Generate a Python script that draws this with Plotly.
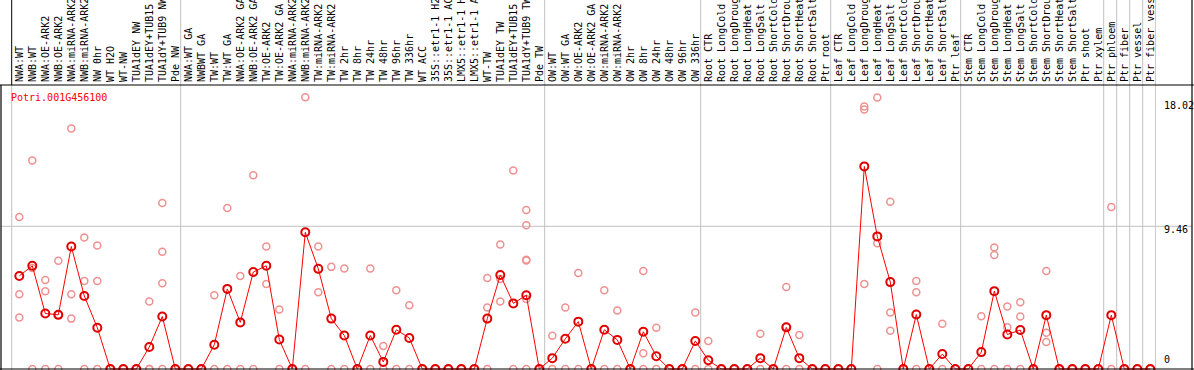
import plotly.graph_objects as go

gene = "Potri.001G456100"

labels = [
    "NWA:WT", "NWB:WT", "NWA:OE-ARK2", "NWB:OE-ARK2", "NWA:miRNA-ARK2", "NWB:miRNA-ARK2",
    "NW 0hr", "WT H2O", "WT-NW", "TUA1dEY NW", "TUA1dEY+TUB15", "TUA1dY+TUB9 NW", "Pde NW",
    "NWA:WT GA", "NWBWT GA", "TW:WT", "TW:WT GA", "NWA:OE-ARK2 GA", "NWB:OE-ARK2 GA",
    "TW:OE-ARK2", "TW:OE-ARK2 GA", "NWA:miRNA-ARK2", "NWB:miRNA-ARK2", "TW:miRNA-ARK2",
    "TW:miRNA-ARK2", "TW 2hr", "TW 8hr", "TW 24hr", "TW 48hr", "TW 96hr", "TW 336hr",
    "WT ACC", "35S::etr1-1 H2", "35S::etr1-1 AC", "LMX5::etr1-1 H", "LMX5::etr1-1 A",
    "WT-TW", "TUA1dEY TW", "TUA1dEY+TUB15", "TUA1dY+TUB9 TW", "Pde TW",
    "OW:WT", "OW:WT GA", "OW:OE-ARK2", "OW:OE-ARK2 GA", "OW:miRNA-ARK2", "OW:miRNA-ARK2",
    "OW 2hr", "OW 8hr", "OW 24hr", "OW 48hr", "OW 96hr", "OW 336hr",
    "Root CTR", "Root LongCold", "Root LongDroug", "Root LongHeat", "Root LongSalt",
    "Root ShortCold", "Root ShortDrou", "Root ShortHeat", "Root ShortSalt", "Ptr root",
    "Leaf CTR", "Leaf LongCold", "Leaf LongDroug", "Leaf LongHeat", "Leaf LongSalt",
    "Leaf ShortCold", "Leaf ShortDrou", "Leaf ShortHeat", "Leaf ShortSalt", "Ptr leaf",
    "Stem CTR", "Stem LongCold", "Stem LongDroug", "Stem LongHeat", "Stem LongSalt",
    "Stem ShortCold", "Stem ShortDrou", "Stem ShortHeat", "Stem ShortSalt", "Ptr shoot",
    "Ptr xylem", "Ptr phloem", "Ptr fiber", "Ptr vessel", "Ptr fiber vess",
]

means = [
    6.17, 6.84, 3.68, 3.59, 8.12, 4.84, 2.74, 0, 0, 0, 1.46, 3.48, 0,
    0, 0, 1.61, 5.31, 3.09, 6.43, 6.84, 1.95, 0, 9.06, 6.64, 3.34, 2.22, 0, 2.22,
    0.47, 2.6, 2.06, 0, 0, 0, 0, 0, 3.34, 6.23, 4.35, 4.89, 0,
    0.72, 2.0, 3.14, 0, 2.6, 1.93, 0, 2.47, 0.85, 0, 0, 1.86,
    0.58, 0, 0, 0, 0.72, 0, 2.76, 0.72, 0, 0,
    0, 0, 13.43, 8.79, 5.76, 0, 3.61, 0, 0.99, 0,
    0, 1.12, 5.16, 2.29, 2.58, 0, 3.57, 0, 0, 0,
    0, 3.57, 0, 0, 0,
]

replicates = [
    [10.07, 4.96, 3.41], [13.82, 6.7, 0], [5.9, 5.16, 0], [7.17, 3.6, 0],
    [15.95, 4.96, 3.34], [8.72, 5.83, 0], [8.18, 5.83, 0], [0], [0], [0],
    [4.48, 0, 0], [11.0, 7.78, 5.69, 0], [0],
    [0], [0], [4.89, 0], [10.67, 0], [6.17, 0], [12.84, 0], [8.12, 5.63], [3.95, 0],
    [0], [18.02, 0], [8.12, 5.09], [6.77, 0], [6.66, 0], [0], [6.66, 0], [1.52, 0],
    [5.22, 0], [4.22, 0], [0], [0], [0], [0], [0], [6.03, 4.08, 0],
    [8.25, 5.96, 4.48], [13.16, 0], [10.54, 9.53, 7.24, 7.2, 4.64, 0], [0],
    [2.2, 0], [4.08, 0], [6.37, 0], [0], [5.22, 0], [3.88, 0], [0], [6.5, 1.05, 0],
    [2.74, 0], [0], [0], [3.74, 0],
    [1.86, 0], [0], [0], [0], [2.33, 0], [0], [5.43, 2.8, 0], [2.26, 0], [0], [0],
    [0], [0], [17.4, 17.2, 5.63], [18.0, 8.34, 0], [11.08, 3.74, 2.53], [0],
    [5.83, 5.09, 0], [0], [3.0, 0], [0],
    [0], [3.5, 0], [8.05, 7.56, 0], [4.15, 2.76, 0], [4.42, 3.48, 0], [0],
    [6.5, 2.4, 1.79], [0], [0], [0],
    [0], [10.74, 0], [0], [0], [0],
]

# last column index of each group (a separator is drawn after it)
group_last = [-1, 12, 40, 52, 62, 72, 83, 84, 85, 86, 87]

y_ticks = [0, 9.46, 18.02]
y_ticktext = ["0", "9.46", "18.02"]

MONO = "DejaVu Sans Mono"
W, H = 1194, 370
ML, MR, MT, MB = 1, 38, 85, 0
plot_w = W - ML - MR
plot_h = H - MT - MB

x_idx = list(range(len(labels)))
rep_x = [i for i, reps in enumerate(replicates) for _ in reps]
rep_y = [v for reps in replicates for v in reps]

fig = go.Figure()
fig.add_trace(go.Scatter(
    x=rep_x, y=rep_y, mode="markers", cliponaxis=False,
    marker=dict(symbol="circle-open", size=7, color="#f09090", line=dict(width=1.5, color="#f09090")),
    hoverinfo="skip", showlegend=False,
))
fig.add_trace(go.Scatter(
    x=x_idx, y=means, mode="lines+markers", cliponaxis=False,
    line=dict(color="#ff0000", width=1),
    marker=dict(symbol="circle-open", size=8, color="#e00000", line=dict(width=2, color="#e00000")),
    showlegend=False,
))

top_paper = H / plot_h - MB / plot_h  # paper y of image top
right_paper = (1192 - ML) / plot_w

shapes = []
for k, g in enumerate(group_last):
    xv = g + 0.415
    shapes.append(dict(type="line", xref="x", yref="paper", x0=xv, x1=xv, y0=0, y1=1,
                       line=dict(color="#c0c0c0", width=1), layer="below"))
    shapes.append(dict(type="line", xref="x", yref="paper", x0=xv, x1=xv, y0=1, y1=top_paper,
                       line=dict(color="#000000" if k == 0 else "#c0c0c0", width=1), layer="below"))
# horizontal mid gridline
shapes.append(dict(type="line", xref="paper", yref="y", x0=0, x1=right_paper, y0=y_ticks[1], y1=y_ticks[1],
                   line=dict(color="#c0c0c0", width=1), layer="below"))
# frame
shapes += [
    dict(type="line", xref="paper", yref="paper", x0=-0.01, x1=1.05, y0=1, y1=1, line=dict(color="black", width=1.2)),
    dict(type="line", xref="paper", yref="paper", x0=-0.01, x1=1.05, y0=1.0 / plot_h, y1=1.0 / plot_h, line=dict(color="black", width=1.2)),
    dict(type="line", xref="paper", yref="paper", x0=0, x1=0, y0=0, y1=1, line=dict(color="black", width=1.2)),
    dict(type="line", xref="paper", yref="paper", x0=right_paper, x1=right_paper, y0=-0.01, y1=top_paper + 0.01,
         line=dict(color="black", width=1.2)),
]

annotations = [dict(text=gene, xref="paper", yref="paper", x=8.3 / plot_w, y=(H - 97) / plot_h,
                    xanchor="left", yanchor="middle", showarrow=False,
                    font=dict(family=MONO, size=10, color="#ff0000"))]
anchors = ["bottom", "middle", "top"]
shifts = [2, -3, -1]
for v, t, a, s in zip(y_ticks, y_ticktext, anchors, shifts):
    annotations.append(dict(text=t, xref="paper", yref="y", x=(1162 - ML) / plot_w, y=v,
                            xanchor="left", yanchor=a, yshift=s, showarrow=False,
                            font=dict(family=MONO, size=10, color="black")))

# y mapping: value 0 sits ~1px below the bottom edge, 15.085 px per unit
px_per_unit = 15.085
ymin = 1.0 / px_per_unit
y_range = [-ymin, -ymin + plot_h / px_per_unit]
x_range = [-1.408, -1.408 + plot_w / 13.0]

fig.update_layout(
    width=W, height=H, margin=dict(l=ML, r=MR, t=MT, b=MB, pad=0),
    paper_bgcolor="white", plot_bgcolor="white",
    shapes=shapes, annotations=annotations,
    xaxis=dict(range=x_range, side="top", tickmode="array", tickvals=x_idx, ticktext=labels,
               tickangle=-90, tickfont=dict(family=MONO, size=10, color="black"),
               showgrid=False, zeroline=False, showline=False, ticks="", automargin=False,
               ticklabelstandoff=2),
    yaxis=dict(range=y_range, showgrid=False, zeroline=False, showline=False,
               showticklabels=False, ticks="", automargin=False),
)

fig.write_html("out.html", config={"displayModeBar": False},
               post_script="document.body.style.margin='0';document.body.style.overflow='hidden';")
